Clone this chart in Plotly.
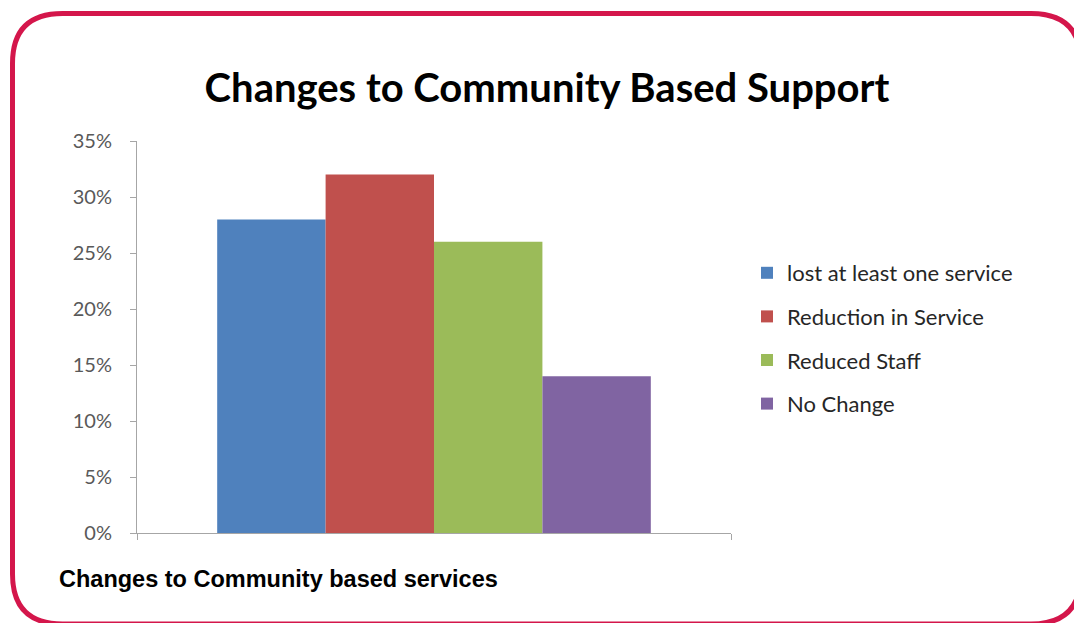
import plotly.graph_objects as go

category = ["Changes to Community based services"]
series = ["lost at least one service", "Reduction in Service", "Reduced Staff", "No Change"]
values = [0.28, 0.32, 0.26, 0.14]
colors = ["#4F81BD", "#C0504D", "#9BBB59", "#8064A2"]
tick_vals = [0, 0.05, 0.10, 0.15, 0.20, 0.25, 0.30, 0.35]
tick_text = ["0%", "5%", "10%", "15%", "20%", "25%", "30%", "35%"]

W, H = 1074, 623
L, R, T, B = 137, 731, 141, 533  # plot area in px


def px(x):
    return (x - L) / (R - L)


def py(y):
    return (B - y) / (B - T)


fig = go.Figure()
for i, (name, v, c) in enumerate(zip(series, values, colors)):
    fig.add_trace(go.Bar(x=category, y=[v], name=name, marker=dict(color=c, line=dict(width=0)),
                         legendgroup=str(i)))

# rounded border path (paper coords)
x0, x1, y0, y1, r = 12.5, 1081, 13.5, 624, 50
path = (f"M {px(x0 + r)},{py(y0)} L {px(x1 - r)},{py(y0)} "
        f"Q {px(x1)},{py(y0)} {px(x1)},{py(y0 + r)} L {px(x1)},{py(y1 - r)} "
        f"Q {px(x1)},{py(y1)} {px(x1 - r)},{py(y1)} L {px(x0 + r)},{py(y1)} "
        f"Q {px(x0)},{py(y1)} {px(x0)},{py(y1 - r)} L {px(x0)},{py(y0 + r)} "
        f"Q {px(x0)},{py(y0)} {px(x0 + r)},{py(y0)} Z")

fig.update_layout(
    width=W, height=H,
    margin=dict(l=L, r=W - R, t=T, b=H - B, autoexpand=False),
    paper_bgcolor="white", plot_bgcolor="white",
    barmode="group", bargap=0.27, bargroupgap=0,
    title=dict(text="<b>Changes to Community Based Support</b>", x=547 / W, xanchor="center",
               y=1 - 88 / H, yanchor="middle",
               font=dict(family="Lato", size=40, color="#000000")),
    xaxis=dict(showticklabels=False, ticks="outside", tickson="boundaries", ticklen=6,
               tickcolor="#A6A6A6", showline=True, linecolor="#A6A6A6", linewidth=1,
               showgrid=False, zeroline=False, fixedrange=True),
    yaxis=dict(range=[0, 0.35], tickvals=tick_vals, ticktext=tick_text, ticks="outside",
               ticklen=6, tickcolor="#A6A6A6", showline=True, linecolor="#A6A6A6", linewidth=1,
               showgrid=False, zeroline=False, ticklabelstandoff=14,
               tickfont=dict(family="Lato", size=20, color="#595959")),
    legend=dict(x=px(747), xanchor="left", y=py(338.5), yanchor="middle",
                font=dict(family="Lato", size=22, color="#262626"),
                tracegroupgap=12, traceorder="grouped", bgcolor="rgba(0,0,0,0)"),
    showlegend=True,
    annotations=[dict(text="<b>Changes to Community based services</b>", xref="paper", yref="paper",
                      x=px(57), y=py(579), xanchor="left", yanchor="middle", showarrow=False,
                      font=dict(family="Liberation Sans", size=23.5, color="#000000"))],
    shapes=[dict(type="path", path=path, xref="paper", yref="paper",
                 line=dict(color="#D4164B", width=5), layer="above")],
)

fig.write_html("out.html")
